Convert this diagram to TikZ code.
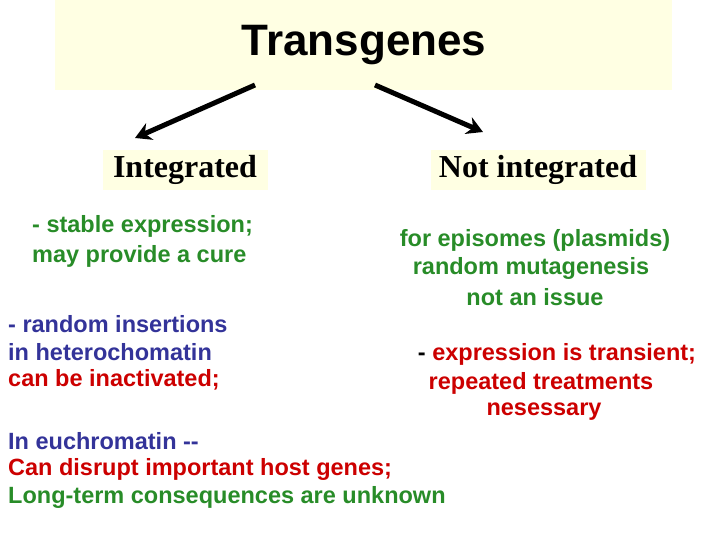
\documentclass[tikz,border=0pt]{standalone}
\usepackage{fontspec}
\setmainfont{Liberation Serif}
\setsansfont{Liberation Sans}
\usetikzlibrary{positioning,arrows.meta}
\definecolor{cream}{RGB}{255,255,227}
\definecolor{tgreen}{RGB}{40,140,40}
\definecolor{tblue}{RGB}{51,51,153}
\definecolor{tred}{RGB}{204,0,0}
\begin{document}
\begin{tikzpicture}[x=1pt,y=-1pt]
    \tikzstyle{lnode} = [font=\sffamily\bfseries\fontsize{23.5}{27}\selectfont, inner sep=0pt, anchor=west]
    \tikzstyle{cnode} = [font=\sffamily\bfseries\fontsize{23.5}{27}\selectfont, inner sep=0pt]
    \tikzstyle{hnode} = [fill=cream, font=\rmfamily\bfseries\fontsize{32}{36}\selectfont, inner sep=3pt, minimum height=40pt]
    \useasboundingbox (0,0) rectangle (728,546);
    \fill[cream] (55,0) rectangle (672,90);
    \node[font=\sffamily\bfseries\fontsize{44}{48}\selectfont] (title) at (364,45) {Transgenes};

    \node[hnode, minimum width=165pt] (int) at (185,170) {Integrated};
    \node[hnode, minimum width=215pt] (nint) at (538,170) {Not integrated};

    \coordinate (la) at (255,85);
    \coordinate (lb) at (135,138);
    \coordinate (ra) at (375,85);
    \coordinate (rb) at (483,132);
    \draw[line width=5pt, -{Stealth[length=16pt,width=18pt]}] (la) -- (lb);
    \draw[line width=5pt, -{Stealth[length=16pt,width=18pt]}] (ra) -- (rb);

    \node[lnode, text=tgreen] (s1) at (32,226) {- stable expression;};
    \node[lnode, text=tgreen] (s2) at (32,256) {may provide a cure};

    \node[cnode, text=tgreen] (e1) at (535,240) {for episomes (plasmids)};
    \node[cnode, text=tgreen] (e2) at (531,268) {random mutagenesis};
    \node[cnode, text=tgreen] (e3) at (535,297) {not an issue};

    \node[lnode, text=tblue] (r1) at (8,324) {- random insertions};
    \node[lnode, text=tblue] (r2) at (8,352) {in heterochomatin};
    \node[lnode, text=tred] (r3) at (8,380) {can be inactivated;};

    \node[cnode, text=tred] (t1) at (557,354) {\textcolor{black}{-} expression is transient;};
    \node[cnode, text=tred] (t2) at (541,383) {repeated treatments};
    \node[cnode, text=tred] (t3) at (544,412) {nesessary};

    \node[lnode, text=tblue] (u1) at (8,441) {In euchromatin {-}{-}};
    \node[lnode, text=tred] (u2) at (8,469) {Can disrupt important host genes;};
    \node[lnode, text=tgreen] (u3) at (8,497) {Long-term consequences are unknown};
\end{tikzpicture}
\end{document}
